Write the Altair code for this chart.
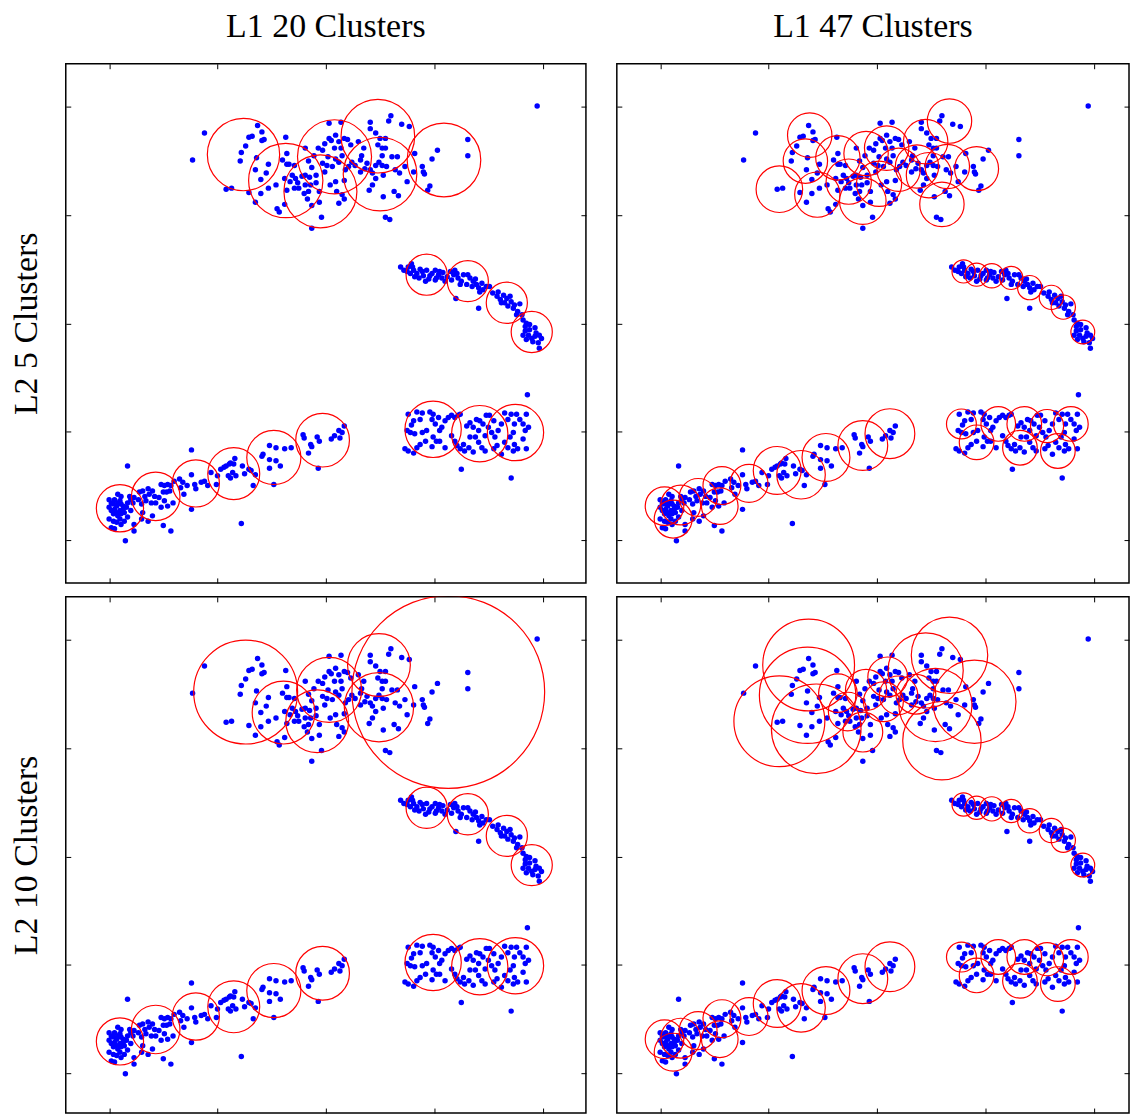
import altair as alt
import pandas as pd

# ---------------- data points (same in all four panels) ----------------
upper_pts = [
    (0.88, 3.76), (0.77, 3.51), (1.37, 3.83), (1.41, 3.77), (1.29, 3.72), (1.32, 3.73), (1.41, 3.69),
    (1.43, 3.70), (1.26, 3.64), (1.22, 3.58), (1.21, 3.50), (1.36, 3.53), (1.35, 3.42), (1.47, 3.47),
    (1.45, 3.39), (1.40, 3.33), (1.63, 3.72), (1.64, 3.57), (1.08, 3.24), (1.13, 3.25), (1.29, 3.21),
    (1.35, 3.12), (1.40, 3.20), (1.47, 3.25), (1.54, 3.28), (1.55, 3.06), (1.57, 3.03), (1.62, 3.10),
    (1.60, 3.51), (1.64, 3.47), (1.66, 3.47), (1.71, 3.46), (1.69, 3.37), (1.67, 3.31), (1.62, 3.34),
    (1.72, 3.34), (1.74, 3.30), (1.75, 3.25), (1.71, 3.25), (1.64, 3.23), (1.80, 3.20), (1.83, 3.15),
    (1.87, 3.09), (1.84, 3.22), (1.86, 3.28), (1.81, 3.28), (1.78, 3.36), (1.81, 3.37), (1.85, 3.35),
    (1.91, 3.37), (1.87, 3.44), (1.84, 3.50), (1.89, 3.55), (1.91, 3.30), (1.94, 3.22), (1.94, 3.12),
    (1.96, 2.98), (1.87, 2.88), (1.81, 3.62), (1.93, 3.62), (1.97, 3.60), (1.99, 3.66), (2.03, 3.71),
    (2.05, 3.69), (2.08, 3.62), (2.09, 3.74), (2.03, 3.85), (2.14, 3.86), (2.12, 3.68), (2.14, 3.62),
    (2.02, 3.54), (2.01, 3.46), (2.06, 3.45), (2.09, 3.52), (2.12, 3.49), (2.15, 3.55), (2.17, 3.71),
    (2.20, 3.70), (2.23, 3.65), (1.97, 3.48), (1.99, 3.40), (2.04, 3.28), (2.09, 3.31), (2.10, 3.22),
    (2.15, 3.19), (2.12, 3.11), (2.17, 3.15), (2.17, 3.32), (2.18, 3.42), (2.21, 3.45), (2.24, 3.49),
    (2.27, 3.46), (2.32, 3.51), (2.32, 3.40), (2.30, 3.68), (2.35, 3.62), (2.33, 3.55), (2.38, 3.48),
    (2.36, 3.43), (2.41, 3.42), (2.43, 3.39), (2.46, 3.46), (2.49, 3.49), (2.52, 3.55), (2.48, 3.65),
    (2.50, 3.71), (2.55, 3.71), (2.46, 3.76), (2.41, 3.86), (2.41, 3.80), (2.58, 3.87), (2.60, 3.92),
    (2.70, 3.84), (2.77, 3.82), (2.52, 3.62), (2.55, 3.62), (2.52, 3.46), (2.53, 3.37), (2.46, 3.34),
    (2.43, 3.28), (2.40, 3.23), (2.53, 3.17), (2.63, 3.22), (2.67, 3.18), (2.55, 2.98), (2.59, 2.96),
    (2.61, 3.54), (2.66, 3.54), (2.56, 3.45), (2.64, 3.42), (2.68, 3.39), (2.73, 3.45), (2.75, 3.31),
    (2.82, 3.57), (2.81, 3.40), (2.89, 3.45), (2.90, 3.40), (2.91, 3.38), (2.96, 3.27), (2.94, 3.23),
    (2.98, 3.52), (3.03, 3.60), (3.31, 3.70), (3.31, 3.55), (3.95, 4.01),
]

arc_pts = [
    (2.69, 2.52), (2.72, 2.49), (2.76, 2.52), (2.79, 2.55), (2.78, 2.46), (2.81, 2.49), (2.84, 2.46),
    (2.86, 2.42), (2.89, 2.48), (2.90, 2.44), (2.93, 2.49), (2.95, 2.41), (2.98, 2.46), (3.01, 2.49),
    (3.01, 2.40), (3.04, 2.45), (3.07, 2.42), (3.08, 2.47), (3.10, 2.39), (3.12, 2.43), (2.75, 2.48),
    (2.82, 2.43), (2.92, 2.39), (2.96, 2.44), (3.02, 2.42), (2.87, 2.50), (3.05, 2.48), (2.80, 2.52),
    (3.15, 2.48), (3.18, 2.45), (3.16, 2.40), (3.21, 2.46), (3.22, 2.42), (3.25, 2.39), (3.27, 2.45),
    (3.30, 2.36), (3.33, 2.42), (3.35, 2.34), (3.36, 2.39), (3.39, 2.36), (3.41, 2.33), (3.44, 2.37),
    (3.45, 2.31), (3.48, 2.34), (3.51, 2.34), (3.20, 2.23), (3.41, 2.14), (3.24, 2.36), (3.31, 2.45),
    (3.38, 2.41), (3.42, 2.29), (3.19, 2.49), (3.54, 2.28), (3.58, 2.25), (3.59, 2.29), (3.61, 2.22),
    (3.64, 2.26), (3.65, 2.19), (3.67, 2.23), (3.68, 2.16), (3.71, 2.20), (3.73, 2.14), (3.74, 2.17),
    (3.77, 2.11), (3.79, 2.18), (3.76, 2.08), (3.81, 2.08), (3.62, 2.19), (3.70, 2.25), (3.82, 2.03),
    (3.85, 2.00), (3.84, 1.97), (3.88, 1.94), (3.87, 1.89), (3.82, 1.89), (3.85, 1.85), (3.90, 1.86),
    (3.93, 1.88), (3.94, 1.91), (3.97, 1.89), (3.99, 1.86), (3.96, 1.82), (3.91, 1.83), (3.97, 1.77),
    (3.88, 1.99), (3.84, 1.93), (3.93, 1.96),
]

blob_pts = [
    (3.86, 1.34), (3.25, 0.65), (3.71, 0.57),
    (2.76, 1.16), (2.81, 1.10), (2.84, 1.18), (2.89, 1.17), (2.87, 1.11), (2.79, 1.06), (2.75, 1.01),
    (2.78, 0.99), (2.82, 0.98), (2.89, 0.99), (2.93, 1.01), (2.96, 1.18), (2.99, 1.16), (2.98, 1.11),
    (3.01, 1.07), (3.04, 1.13), (3.07, 1.04), (3.05, 1.01), (3.10, 1.10), (3.13, 1.13), (3.16, 1.15),
    (3.19, 1.13), (3.22, 1.15), (3.24, 1.16), (2.73, 0.84), (2.76, 0.82), (2.81, 0.80), (2.84, 0.85),
    (2.87, 0.88), (2.92, 0.91), (2.98, 0.86), (2.99, 0.95), (3.02, 0.91), (3.05, 0.91), (3.10, 0.85),
    (3.16, 0.96), (3.19, 0.91), (3.21, 0.87), (3.24, 0.84), (3.27, 0.88), (3.28, 0.82), (3.32, 0.85),
    (3.33, 0.95), (3.36, 1.04), (3.33, 1.08), (3.30, 1.05), (3.39, 1.11), (3.42, 1.10), (3.41, 1.01),
    (3.45, 1.07), (3.47, 0.96), (3.48, 1.15), (3.51, 1.15), (3.55, 1.10), (3.50, 1.04), (3.53, 0.99),
    (3.56, 0.95), (3.59, 1.01), (3.58, 0.87), (3.55, 0.84), (3.47, 0.82), (3.41, 0.90), (3.38, 0.95),
    (3.36, 0.81), (3.44, 0.85), (3.62, 1.07), (3.65, 1.17), (3.68, 1.11), (3.71, 1.16), (3.76, 1.16),
    (3.79, 1.11), (3.82, 1.07), (3.85, 1.16), (3.74, 1.07), (3.73, 0.99), (3.70, 0.95), (3.68, 0.85),
    (3.73, 0.82), (3.77, 0.84), (3.74, 0.88), (3.82, 0.93), (3.84, 1.01), (3.87, 1.04), (3.85, 0.84),
    (3.62, 0.79), (3.65, 0.90),
]

diag_pts = [
    (0.17, 0.68), (0.76, 0.83), (0.15, -0.01), (0.50, 0.13), (0.57, 0.08), (1.22, 0.15),
    (0.00, 0.37), (0.02, 0.34), (0.04, 0.33), (0.05, 0.37), (0.07, 0.31), (0.08, 0.34), (0.10, 0.36),
    (0.11, 0.33), (0.13, 0.31), (0.00, 0.30), (0.02, 0.27), (0.04, 0.24), (0.05, 0.28), (0.07, 0.25),
    (0.08, 0.22), (0.10, 0.27), (0.11, 0.24), (0.13, 0.28), (0.14, 0.25), (0.16, 0.30), (0.17, 0.34),
    (0.00, 0.19), (0.04, 0.17), (0.07, 0.16), (0.10, 0.19), (0.11, 0.14), (0.14, 0.17), (0.02, 0.11),
    (0.05, 0.10), (0.19, 0.40), (0.20, 0.37), (0.22, 0.34), (0.23, 0.39), (0.27, 0.37), (0.17, 0.21),
    (0.20, 0.27), (0.23, 0.14), (0.23, 0.08), (0.08, 0.42), (0.11, 0.40),
    (0.28, 0.44), (0.31, 0.45), (0.33, 0.40), (0.36, 0.47), (0.37, 0.42), (0.40, 0.45), (0.42, 0.40),
    (0.30, 0.33), (0.34, 0.36), (0.39, 0.34), (0.43, 0.34), (0.46, 0.39), (0.48, 0.51), (0.51, 0.50),
    (0.54, 0.51), (0.50, 0.44), (0.53, 0.44), (0.56, 0.45), (0.57, 0.50), (0.59, 0.34), (0.54, 0.31),
    (0.51, 0.36), (0.48, 0.30), (0.31, 0.25), (0.36, 0.17), (0.40, 0.22), (0.30, 0.19),
    (0.60, 0.54), (0.65, 0.56), (0.68, 0.53), (0.69, 0.42), (0.72, 0.50), (0.76, 0.60), (0.79, 0.51),
    (0.80, 0.47), (0.85, 0.53), (0.88, 0.54), (0.91, 0.50), (0.76, 0.28), (0.66, 0.48), (0.94, 0.62),
    (0.99, 0.51), (1.00, 0.59),
    (1.03, 0.65), (1.06, 0.67), (1.08, 0.68), (1.11, 0.70), (1.12, 0.71), (1.15, 0.70), (1.16, 0.75),
    (1.14, 0.62), (1.10, 0.59), (1.12, 0.57), (1.17, 0.59), (1.23, 0.68), (1.25, 0.61), (1.29, 0.65),
    (1.31, 0.64), (1.35, 0.60), (1.33, 0.50), (1.41, 0.77), (1.42, 0.79), (1.48, 0.87), (1.54, 0.85),
    (1.62, 0.84), (1.68, 0.85), (1.48, 0.74), (1.54, 0.73), (1.58, 0.68), (1.48, 0.66), (1.52, 0.51),
    (1.79, 0.97), (1.80, 0.94), (1.86, 0.88), (1.87, 0.86), (1.84, 0.80), (1.92, 0.95), (1.94, 0.91),
    (1.93, 0.66), (2.05, 0.93), (2.08, 0.96), (2.13, 0.94), (2.12, 1.01), (2.15, 0.99), (2.17, 1.05),
]

# ---------------- cluster circles: (centre x, centre y, radius) ----------------
l1_20_lower = [
    (2.93, 2.45, 0.19), (3.31, 2.39, 0.19), (3.67, 2.19, 0.19), (3.90, 1.92, 0.19),
    (2.99, 1.02, 0.26), (3.42, 0.98, 0.26), (3.75, 0.99, 0.26),
    (0.10, 0.29, 0.218), (0.43, 0.40, 0.224), (0.80, 0.52, 0.218), (1.15, 0.61, 0.24),
    (1.52, 0.76, 0.25), (1.97, 0.92, 0.248),
]
l1_20_l2_5_upper = [
    (1.24, 3.56, 0.334), (1.63, 3.32, 0.343), (2.08, 3.54, 0.342), (1.95, 3.22, 0.337),
    (2.48, 3.73, 0.34), (2.50, 3.38, 0.34), (3.09, 3.51, 0.34),
]
l1_20_l2_10_upper = [
    (1.26, 3.52, 0.48), (3.13, 3.52, 0.89), (1.61, 3.33, 0.29), (2.03, 3.54, 0.30),
    (1.92, 3.25, 0.29), (2.49, 3.77, 0.29), (2.49, 3.38, 0.32),
]
l1_47_lower = [
    (2.80, 2.48, 0.107), (2.92, 2.45, 0.107), (3.06, 2.44, 0.112), (3.24, 2.42, 0.107),
    (3.41, 2.33, 0.112), (3.61, 2.24, 0.112), (3.72, 2.15, 0.112), (3.90, 1.92, 0.11),
    (2.78, 1.07, 0.138), (2.92, 0.90, 0.16), (3.12, 1.07, 0.16), (3.36, 1.07, 0.16),
    (3.32, 0.85, 0.16), (3.57, 1.05, 0.153), (3.67, 0.82, 0.16), (3.79, 1.07, 0.16),
    (0.04, 0.31, 0.178), (0.12, 0.19, 0.175), (0.19, 0.32, 0.184), (0.35, 0.39, 0.175),
    (0.55, 0.31, 0.169), (0.57, 0.50, 0.175), (0.82, 0.52, 0.175), (1.08, 0.64, 0.221),
    (1.30, 0.60, 0.224), (1.53, 0.76, 0.221), (1.87, 0.87, 0.23), (2.12, 0.98, 0.23),
]
l1_47_l2_5_upper = [
    (1.38, 3.74, 0.205), (1.34, 3.50, 0.205), (1.10, 3.24, 0.215), (1.45, 3.19, 0.209),
    (1.64, 3.53, 0.205), (1.74, 3.31, 0.209), (1.90, 3.57, 0.205), (1.87, 3.13, 0.215),
    (2.09, 3.62, 0.205), (2.02, 3.29, 0.209), (2.20, 3.42, 0.2), (2.45, 3.68, 0.205),
    (2.37, 3.45, 0.2), (2.48, 3.37, 0.209), (2.65, 3.45, 0.205), (2.67, 3.87, 0.205),
    (2.60, 3.10, 0.205), (2.92, 3.43, 0.203),
]
l1_47_l2_10_upper = [
    (1.37, 3.77, 0.424), (1.36, 3.49, 0.445), (1.10, 3.25, 0.42), (1.44, 3.18, 0.414),
    (1.64, 3.51, 0.178), (1.73, 3.34, 0.178), (1.90, 3.54, 0.19), (1.87, 3.15, 0.184),
    (2.10, 3.66, 0.184), (2.06, 3.43, 0.184), (2.20, 3.49, 0.178), (2.36, 3.50, 0.184),
    (2.67, 3.86, 0.353), (2.45, 3.72, 0.347), (2.54, 3.40, 0.338), (2.90, 3.43, 0.384),
    (2.60, 3.07, 0.362),
]

col_titles = ["L1 20 Clusters", "L1 47 Clusters"]
row_titles = ["L2 5 Clusters", "L2 10 Clusters"]
tick_values = [0, 1, 2, 3, 4]
full_domain = [-0.4, 4.4]

points_df = pd.DataFrame(upper_pts + arc_pts + blob_pts + diag_pts, columns=["x", "y"])


def circles_df(rows):
    return pd.DataFrame(rows, columns=["cx", "cy", "r"])


FULL_W, FULL_H = 522, 521          # full panel size of the original figure
PX_X = FULL_W / (full_domain[1] - full_domain[0])
PX_Y = FULL_H / (full_domain[1] - full_domain[0])
PX_PER_UNIT = (PX_X + PX_Y) / 2
SERIF = "Liberation Serif"


def tick_axis(orient, **extra):
    return alt.Axis(orient=orient, values=tick_values, labels=False, domain=False, grid=False,
                    ticks=True, tickSize=5, offset=-5, tickColor="black", tickWidth=1, **extra)


def panel(circ_rows, width, height, col_title=None, row_title=None):
    # the right column and bottom row of the original figure are cropped by the frame
    xdom = [full_domain[0], full_domain[0] + width / PX_X]
    ydom = [full_domain[1] - height / PX_Y, full_domain[1]]
    xs = alt.Scale(domain=xdom, nice=False, zero=False)
    ys = alt.Scale(domain=ydom, nice=False, zero=False)
    if row_title is not None:
        y_enc = alt.Y("y:Q", scale=ys, title=row_title,
                      axis=tick_axis("left", titleFont=SERIF, titleFontSize=34, titleFontWeight="normal",
                                     titleColor="black", titlePadding=22))
    else:
        y_enc = alt.Y("y:Q", scale=ys, title=None, axis=tick_axis("left"))
    pts = alt.Chart(points_df).mark_circle(color="#0000ff", size=30, opacity=1, clip=True).encode(
        x=alt.X("x:Q", scale=xs, title=None, axis=tick_axis("bottom")),
        y=y_enc,
    )
    circ = alt.Chart(circles_df(circ_rows)).mark_point(
        shape="circle", filled=False, color="#ff0000", strokeWidth=1.2, opacity=1, clip=True
    ).encode(
        x=alt.X("cx:Q", scale=xs, title=None, axis=tick_axis("top")),
        y=alt.Y("cy:Q", scale=ys, title=None, axis=tick_axis("right")),
        size=alt.Size("r:Q", legend=None,
                      scale=alt.Scale(type="pow", exponent=2, domain=[0, 1],
                                      range=[0, (2 * PX_PER_UNIT) ** 2])),
    )
    layer = alt.layer(pts, circ).resolve_axis(x="independent", y="independent")
    props = dict(width=width, height=height)
    if col_title is not None:
        props["title"] = alt.TitleParams(col_title, font=SERIF, fontSize=34, fontWeight="normal",
                                         color="black", anchor="middle", offset=19)
    return layer.properties(**props)


RIGHT_W, BOTTOM_H = 514, 518

tl = panel(l1_20_l2_5_upper + l1_20_lower, FULL_W, FULL_H, col_title=col_titles[0], row_title=row_titles[0])
tr = panel(l1_47_l2_5_upper + l1_47_lower, RIGHT_W, FULL_H, col_title=col_titles[1])
bl = panel(l1_20_l2_10_upper + l1_20_lower, FULL_W, BOTTOM_H, row_title=row_titles[1])
br = panel(l1_47_l2_10_upper + l1_47_lower, RIGHT_W, BOTTOM_H)

chart = alt.vconcat(
    alt.hconcat(tl, tr, spacing=27),
    alt.hconcat(bl, br, spacing=27),
    spacing=10,
).properties(
    padding={"left": 8, "top": 7, "right": 0, "bottom": 0},
    background="white",
).configure_view(stroke="black", strokeWidth=1.5)

chart.save("out.html", embed_options={"renderer": "svg", "actions": False})
